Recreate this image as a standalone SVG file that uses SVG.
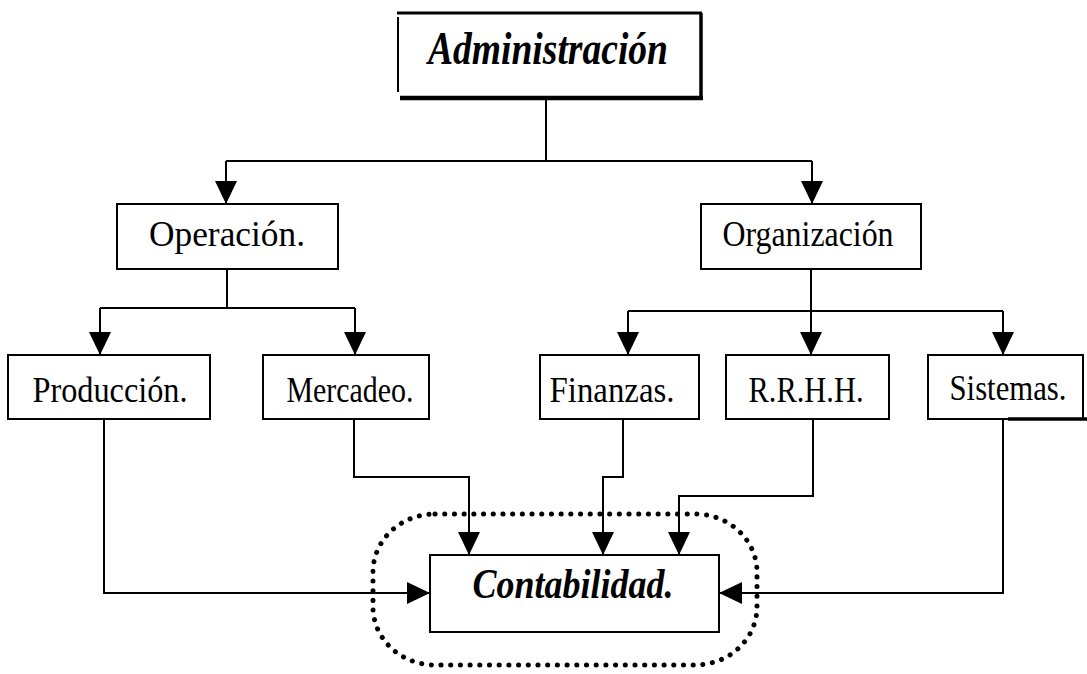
<svg xmlns="http://www.w3.org/2000/svg" width="1087" height="674" viewBox="0 0 1087 674">
<defs>
<style>
.box{fill:#fff;stroke:#000;stroke-width:2}
.lbl{font-family:"Liberation Serif","Times New Roman",serif;font-size:35px;fill:#000;text-anchor:middle}
.big{font-family:"Liberation Serif","Times New Roman",serif;font-weight:bold;font-style:italic;fill:#000;text-anchor:middle}
.ln{fill:none;stroke:#000;stroke-width:2}
.dots{fill:none;stroke:#000;stroke-width:5;stroke-linecap:round;stroke-dasharray:0.1 9.6}
</style>
<marker id="ah" viewBox="0 0 23 22" refX="23" refY="11" markerWidth="23" markerHeight="22" markerUnits="userSpaceOnUse" orient="auto">
<path d="M0,0 L23,11 L0,22 Z" fill="#000"/>
</marker>
</defs>
<rect width="1087" height="674" fill="#fff"/>

<g id="connectors">
<path class="ln" d="M546,100 V161"/>
<path class="ln" d="M226,161 H812"/>
<path class="ln" d="M226,161 V204" marker-end="url(#ah)"/>
<path class="ln" d="M812,161 V204" marker-end="url(#ah)"/>
<path class="ln" d="M227,269 V308"/>
<path class="ln" d="M100,308 H355"/>
<path class="ln" d="M100,308 V355" marker-end="url(#ah)"/>
<path class="ln" d="M355,308 V355" marker-end="url(#ah)"/>
<path class="ln" d="M628,311 H1003"/>
<path class="ln" d="M628,311 V355" marker-end="url(#ah)"/>
<path class="ln" d="M811,269 V355" marker-end="url(#ah)"/>
<path class="ln" d="M1003,311 V355" marker-end="url(#ah)"/>
<path class="ln" d="M104,419 V593 H430" marker-end="url(#ah)"/>
<path class="ln" d="M354,419 V477 H469 V555" marker-end="url(#ah)"/>
<path class="ln" d="M623,419 V477 H603 V555" marker-end="url(#ah)"/>
<path class="ln" d="M813,419 V496 H679 V555" marker-end="url(#ah)"/>
<path class="ln" d="M1003,419 V593 H719" marker-end="url(#ah)"/>
</g>

<g id="administracion">
<rect x="398" y="13" width="303" height="86" fill="#fff"/>
<path d="M397,13 H702" stroke="#000" stroke-width="3" fill="none"/>
<path d="M398,17 V92" stroke="#000" stroke-width="2" fill="none"/>
<path d="M701,13 V100" stroke="#000" stroke-width="3.5" fill="none"/>
<path d="M400,98 H703" stroke="#000" stroke-width="4.5" fill="none"/>
<text class="big" x="548" y="64" font-size="46" textLength="240" lengthAdjust="spacingAndGlyphs">Administración</text>
</g>

<g id="operacion">
<rect class="box" x="117" y="204" width="221" height="65"/>
<text class="lbl" x="227" y="246" textLength="156" lengthAdjust="spacingAndGlyphs">Operación.</text>
</g>

<g id="organizacion">
<rect class="box" x="701" y="204" width="220" height="65"/>
<text class="lbl" x="808" y="246" textLength="171" lengthAdjust="spacingAndGlyphs">Organización</text>
</g>

<g id="produccion">
<rect class="box" x="8" y="355" width="202" height="64"/>
<text class="lbl" x="110" y="402" textLength="155" lengthAdjust="spacingAndGlyphs">Producción.</text>
</g>

<g id="mercadeo">
<rect class="box" x="263" y="355" width="166" height="64"/>
<text class="lbl" x="350" y="402" textLength="127" lengthAdjust="spacingAndGlyphs">Mercadeo.</text>
</g>

<g id="finanzas">
<rect class="box" x="540" y="355" width="159" height="64"/>
<text class="lbl" x="612" y="402" textLength="125" lengthAdjust="spacingAndGlyphs">Finanzas.</text>
</g>

<g id="rrhh">
<rect class="box" x="726" y="355" width="163" height="64"/>
<text class="lbl" x="806" y="402" textLength="115" lengthAdjust="spacingAndGlyphs">R.R.H.H.</text>
</g>

<g id="sistemas">
<rect class="box" x="928" y="355" width="155" height="64"/>
<path d="M1008,419 H1087" stroke="#000" stroke-width="3.5" fill="none"/>
<text class="lbl" x="1008" y="400" textLength="117" lengthAdjust="spacingAndGlyphs">Sistemas.</text>
</g>

<g id="contabilidad">
<rect class="dots" x="373" y="514" width="384" height="151" rx="62" ry="58"/>
<rect class="box" x="430" y="555" width="289" height="77"/>
<text class="big" x="573" y="598" font-size="42" textLength="201" lengthAdjust="spacingAndGlyphs">Contabilidad.</text>
</g>
</svg>
